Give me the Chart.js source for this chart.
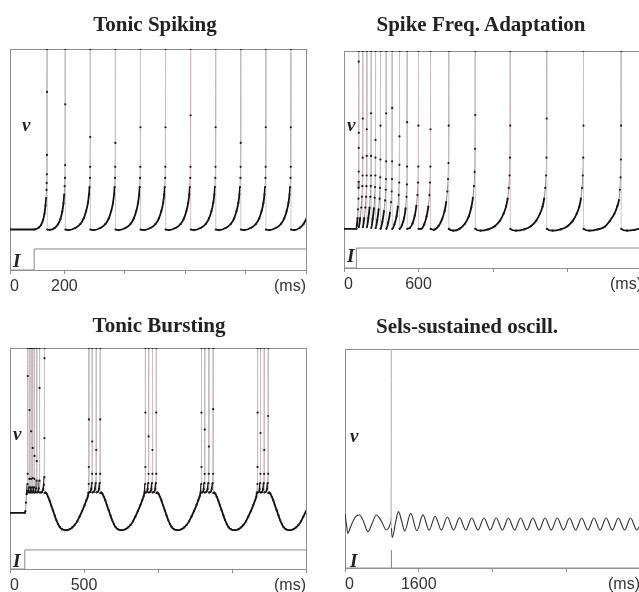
<!DOCTYPE html>
<html>
<head>
<meta charset="utf-8">
<script src="https://cdn.jsdelivr.net/npm/chart.js@4/dist/chart.umd.min.js"></script>
<style>
html, body { margin: 0; padding: 0; background: #fff; overflow: hidden; width: 639px; height: 592px; }
canvas { position: absolute; }
.title { position: absolute; width: 260px; text-align: center; font: bold 21px "Liberation Serif", "Times New Roman", serif; line-height: 21px; color: #222; }
.lab { position: absolute; font: italic bold 19px "Liberation Serif", "Times New Roman", serif; line-height: 19px; color: #222; }
</style>
</head>
<body>
<canvas id="tonicSpiking" width="320" height="300" style="left:0;top:0"></canvas>
<canvas id="adaptation" width="340" height="300" style="left:320px;top:0"></canvas>
<canvas id="tonicBursting" width="320" height="300" style="left:0;top:300px"></canvas>
<canvas id="oscillation" width="340" height="300" style="left:320px;top:300px"></canvas>

<div class="title" style="left:25px;top:14px">Tonic Spiking</div>
<div class="title" style="left:351px;top:14px">Spike Freq. Adaptation</div>
<div class="title" style="left:29px;top:315px">Tonic Bursting</div>
<div class="title" style="left:337px;top:316px">Sels-sustained oscill.</div>

<div class="lab" style="left:22px;top:115px">v</div>
<div class="lab" style="left:13px;top:251px">I</div>
<div class="lab" style="left:347px;top:115px">v</div>
<div class="lab" style="left:347px;top:246px">I</div>
<div class="lab" style="left:13px;top:424px">v</div>
<div class="lab" style="left:13px;top:551px">I</div>
<div class="lab" style="left:350px;top:426px">v</div>
<div class="lab" style="left:350px;top:551px">I</div>

<script>
// membrane potential traces, [t (ms), v (mV)]
const tonicSpikingV = [
    [20,-68],[100,-68],[106,-67.8],[115,-67],[123,-65.5],[129,-63],[134,-59.5],[137.5,-55],[139.5,-51],[140.8,-46.5],[141.5,-42.7],[142,-38],[142.3,-27.5],[142.6,6.7],[143,30],
    [143.4,-68],[152,-68.2],[167,-67.3],[179,-65.2],[187,-62.3],[193,-58.3],[197,-53.8],[199.5,-49],[201,-44.5],[202,-40],[202.5,-33],[202.8,0],[203,30],
    [203.4,-68],[215,-68.3],[236,-67.2],[253,-65],[264,-62],[272,-58],[278,-53.5],[281.5,-49],[283.5,-45],[284.8,-40],[285.4,-34],[285.8,-17.8],[286,30],
    [286.4,-68],[298,-68.3],[319,-67.2],[336,-65],[347,-62],[355,-58],[361,-53.5],[364.5,-49],[366.5,-45],[367.8,-40],[368.4,-34],[368.8,-21],[369,30],
    [369.4,-68],[381,-68.3],[402,-67.2],[419,-65],[430,-62],[438,-58],[444,-53.5],[447.5,-49],[449.5,-45],[450.8,-40],[451.4,-34],[451.8,-12.5],[452,30],
    [452.4,-68],[464,-68.3],[485,-67.2],[502,-65],[513,-62],[521,-58],[527,-53.5],[530.5,-49],[532.5,-45],[533.8,-40],[534.4,-34],[534.8,-12.5],[535,30],
    [535.4,-68],[547,-68.3],[568,-67.2],[585,-65],[596,-62],[604,-58],[610,-53.5],[613.5,-49],[615.5,-45],[616.8,-40],[617.4,-34],[617.8,-6],[618,30],
    [618.4,-68],[630,-68.3],[651,-67.2],[668,-65],[679,-62],[687,-58],[693,-53.5],[696.5,-49],[698.5,-45],[699.8,-40],[700.4,-34],[700.8,-12.5],[701,30],
    [701.4,-68],[713,-68.3],[734,-67.2],[751,-65],[762,-62],[770,-58],[776,-53.5],[779.5,-49],[781.5,-45],[782.8,-40],[783.4,-34],[783.8,-21],[784,30],
    [784.4,-68],[796,-68.3],[817,-67.2],[834,-65],[845,-62],[853,-58],[859,-53.5],[862.5,-49],[864.5,-45],[865.8,-40],[866.4,-34],[866.8,-12.5],[867,30],
    [867.4,-68],[879,-68.3],[900,-67.2],[917,-65],[928,-62],[936,-58],[942,-53.5],[945.5,-49],[947.5,-45],[948.8,-40],[949.4,-34],[949.8,-12.5],[950,30],
    [950.4,-68],[962,-68.3],[980,-67],[992,-65],[1000,-62.5]
];
const tonicSpikingI = [[20,0],[100,0],[100,1],[1000,1]];

const adaptationV = [
    [0,-70],[100,-70],[104,-68],[109,-64],[113,-59],[116,-53],[117.5,-47],[118.2,-43.5],[118.5,-37.8],[118.7,-24.5],[118.8,-16],[118.9,24],[119,30],
    [119.4,-69],[130,-64],[139,-58],[145,-52],[148,-46],[149.5,-40],[150.3,-30],[150.7,-8],[151,30],
    [151.4,-69],[163,-64],[172,-58],[178,-52],[181,-46],[182.5,-40],[183.3,-29],[183.7,-14],[184,30],
    [184.4,-69],[196,-64],[206,-58],[212,-52],[215.5,-46],[217.3,-40],[218.3,-29],[218.7,-5],[219,30],
    [219.4,-69.5],[231,-64.5],[241,-58.5],[247,-52.5],[250.5,-46.5],[252.3,-40],[253.3,-30],[253.7,-20],[254,30],
    [254.4,-69.5],[268,-65],[279,-59],[286,-53],[290,-47],[292.2,-41],[293.3,-31],[293.7,-12],[294,30],
    [294.4,-70],[309,-66],[322,-60],[331,-54],[336,-48],[338.3,-42],[339.3,-32],[339.7,-5],[340,30],
    [340.4,-70],[356,-66.5],[370,-61],[379,-55],[384,-49],[386.3,-42],[387.3,-32],[387.7,-2],[388,30],
    [388.4,-70],[406,-67.5],[423,-63],[434,-57.5],[441,-51],[444.5,-44],[446.2,-34],[446.7,-18],[447,30],
    [447.4,-70],[466,-68],[484,-64],[496,-58.5],[503,-52],[506.5,-45],[508.2,-35],[508.7,-10],[509,30],
    [509.4,-70],[530,-69.5],[552,-67],[570,-62.5],[583,-57],[591,-51],[596,-44],[598.5,-35],[599.5,-12],[600,30],
    [600.4,-70],[622,-70],[646,-67.5],[665,-63],[679,-57.5],[688,-51],[693,-44],[695.7,-35],[696.6,-14],[697,30],
    [697.4,-70],[725,-70.5],[760,-68.5],[790,-64.5],[810,-60],[823,-55],[832,-49],[838,-42],[841.5,-33],[843.3,-12],[844,30],
    [844.4,-70],[880,-71],[930,-70],[975,-67],[1005,-63],[1025,-58],[1038,-52.5],[1047,-46],[1052.5,-38],[1055.5,-25],[1056.6,-6],[1057,30],
    [1057.4,-70],[1100,-71],[1160,-70.3],[1215,-68.5],[1255,-65.5],[1285,-61.5],[1305,-57.5],[1318,-53],[1327,-47],[1333,-40],[1337,-30],[1338.5,-12],[1339,30],
    [1339.4,-70],[1385,-71],[1450,-70.3],[1505,-68.5],[1547,-65.5],[1578,-61.5],[1599,-57.5],[1612,-53],[1621,-47],[1627,-40],[1631,-30],[1632.5,-8],[1633,30],
    [1633.4,-70],[1680,-71],[1745,-70.3],[1800,-68.5],[1842,-65.5],[1874,-61.5],[1895,-57.5],[1908,-53],[1917,-47],[1923,-40],[1927,-30],[1928.5,-12],[1929,30],
    [1929.4,-70],[1977,-71],[2043,-70.3],[2100,-68.8],[2140,-65.6],[2177,-61.6],[2202,-57.1],[2214,-53.8],[2222,-48],[2227,-41],[2230,-31],[2231.5,-12],[2232,30],
    [2232.4,-70],[2280,-71],[2340,-70.6],[2400,-69.5]
];
const adaptationI = [[0,0],[100,0],[100,1],[2400,1]];

const tonicBurstingV = [
    [0,-67],[100,-67],[104,-66],[108,-61],[112,-56],[116,-54],[118.5,-50],[119.3,-44],[119.7,13.5],[120,30],
    [120.4,-55],[126,-54.5],[129.5,-52],[131.2,-47],[131.7,-6.5],[132,30],
    [132.4,-55],[137,-54.5],[140.5,-52],[142.3,-47],[142.7,-19],[143,30],
    [143.4,-55],[148,-54.5],[151.5,-52],[153.3,-46.5],[153.7,-28.8],[154,30],
    [154.4,-55],[159,-54.5],[163,-52],[165.2,-47],[165.7,-33.5],[166,30],
    [166.4,-55],[172,-54.7],[177,-52.5],[180,-48],[180.6,-36.5],[181,30],
    [181.4,-55],[189,-54.7],[195,-52.5],[198.8,-48],[199.5,6.5],[200,30],
    [200.4,-55],[212,-55],[222,-53.5],[229,-50.5],[231.8,-46],[232.6,-23],[232.8,24],[233,30],
    [233.4,-55.3],[240,-55],[248,-55.8],[257,-57.5],[267,-59.6],[278,-62.5],[290,-65.5],[302,-68.5],[313,-71.2],[325,-73.6],[337,-75.4],[352,-76.6],[369,-77.1],[386,-77.1],[403,-76.6],[420,-75.6],[437,-74.1],[454,-72],[470,-69.2],[487,-66],[504,-62.4],[516,-59.6],[526,-57.2],[530,-55],[532,-50],[532.6,-40],[532.8,-12],[533,30],
    [533.4,-55],[542,-54.7],[549,-53],[553.5,-49.5],[555.3,-44],[555.7,-25],[556,30],
    [556.4,-55],[566,-54.7],[574,-53],[579.5,-49.5],[582.2,-44],[582.7,-30],[583,30],
    [583.4,-55],[593,-54.7],[601,-53],[606.5,-49.5],[609.2,-44],[609.6,-12],[610,30],
    [610.4,-55.3],[617,-55],[625,-55.8],[634,-57.5],[644,-59.6],[655,-62.5],[667,-65.5],[679,-68.5],[690,-71.2],[702,-73.6],[714,-75.4],[729,-76.6],[746,-77.1],[763,-77.1],[780,-76.6],[797,-75.6],[814,-74.1],[831,-72],[847,-69.2],[864,-66],[881,-62.4],[893,-59.6],[903,-57.2],[909,-55],[913.5,-50],[914.6,-40],[914.8,-8],[915,30],
    [915.4,-55],[924,-54.7],[930,-53],[934.5,-49.5],[936.3,-44],[936.7,-22],[937,30],
    [937.4,-55],[947,-54.7],[955,-53],[959.5,-49.5],[962.2,-44],[962.7,-30],[963,30],
    [963.4,-55],[973,-54.7],[981,-53],[985.5,-49.5],[988.2,-44],[988.6,-8],[989,30],
    [989.4,-55.3],[996,-55],[1004,-55.8],[1013,-57.5],[1023,-59.6],[1034,-62.5],[1046,-65.5],[1058,-68.5],[1069,-71.2],[1081,-73.6],[1093,-75.4],[1108,-76.6],[1125,-77.1],[1142,-77.1],[1159,-76.6],[1176,-75.6],[1193,-74.1],[1210,-72],[1226,-69.2],[1243,-66],[1260,-62.4],[1272,-59.6],[1282,-57.2],[1288,-55],[1292.5,-50],[1293.6,-40],[1293.8,-8],[1294,30],
    [1294.4,-55],[1303,-54.7],[1309,-53],[1313.5,-49.5],[1315.3,-44],[1315.7,-18],[1316,30],
    [1316.4,-55],[1326,-54.7],[1335,-53],[1340.5,-49.5],[1343.2,-44],[1343.7,-28],[1344,30],
    [1344.4,-55],[1354,-54.7],[1363,-53],[1369.5,-49.5],[1372.2,-44],[1372.6,-6],[1373,30],
    [1373.4,-55.3],[1380,-55],[1388,-55.8],[1397,-57.5],[1407,-59.6],[1418,-62.5],[1430,-65.5],[1442,-68.5],[1453,-71.2],[1465,-73.6],[1477,-75.4],[1492,-76.6],[1509,-77.1],[1526,-77.1],[1543,-76.6],[1560,-75.6],[1577,-74.1],[1594,-72],[1610,-69.2],[1627,-66],[1644,-62.4],[1656,-59.6],[1664,-57.5],[1668,-55],[1671.8,-50],[1672.6,-40],[1672.8,-8],[1673,30],
    [1673.4,-55],[1681,-54.7],[1687,-53],[1690.5,-49.5],[1692.3,-44],[1692.7,-20],[1693,30],
    [1693.4,-55],[1702,-54.7],[1710,-53],[1714.5,-49.5],[1717.2,-44],[1717.7,-30],[1718,30],
    [1718.4,-55],[1728,-54.7],[1736,-53],[1741.5,-49.5],[1744.2,-44],[1744.6,-10],[1745,30],
    [1745.4,-55.3],[1752,-55],[1760,-55.8],[1769,-57.5],[1779,-59.6],[1790,-62.5],[1802,-65.5],[1814,-68.5],[1825,-71.2],[1837,-73.6],[1849,-75.4],[1864,-76.6],[1881,-77.1],[1898,-77.1],[1915,-76.6],[1932,-75.6],[1949,-74.1],[1966,-72],[1982,-69.2],[2000,-66]
];
const tonicBurstingI = [[0,0],[100,0],[100,1],[2000,1]];

const oscillationV = [
    [0,-52.5],[30,-58],[61,-62.6],[110,-60],[170,-56.7],[240,-54],[316,-53.4],[400,-56.5],[497,-61.8],[590,-57.5],[678,-53.4],[790,-56.5],[897,-60.9],[950,-59.8],[990,-57.5],[1003,-55],[1006,30],[1009,-60],[1027,-64.6],
    [1090,-58],[1160,-51.7],[1230,-56.5],[1295,-61.5],[1425,-52.5],[1560,-61.3],[1690,-53.3],[1825,-61],[1955,-54],[2090,-61],[2220,-54.4],
    [2355,-60.9],[2485,-54.7],[2620,-60.9],[2750,-54.9],[2885,-60.9],[3015,-54.9],[3150,-60.9],[3280,-54.9],[3415,-60.9],[3545,-54.9],
    [3680,-60.9],[3810,-54.9],[3945,-60.9],[4075,-54.9],[4210,-60.9],[4340,-54.9],[4475,-60.9],[4605,-54.9],[4740,-60.9],[4870,-54.9],
    [5005,-60.9],[5135,-54.9],[5270,-60.9],[5400,-54.9],[5535,-60.9],[5665,-54.9],[5800,-60.9],[5930,-54.9],[6065,-60.9],[6195,-54.9],
    [6330,-60.9],[6400,-58.5]
];
const oscillationI = [[0,0],[1000,0],[1000,1],[1012,1],[1012,0],[6400,0]];

// tick positions and their labels
const tonicSpikingTicks = [20, 200, 400, 600, 800, 1000];
const tonicSpikingLabels = ['0', '200', '', '', '', '(ms)'];
const adaptationTicks = [0, 600, 1200, 1800, 2400];
const adaptationLabels = ['0', '600', '', '', '(ms)'];
const tonicBurstingTicks = [0, 500, 1000, 1500, 2000];
const tonicBurstingLabels = ['0', '500', '', '', '(ms)'];
const oscillationTicks = [0, 1600, 3200, 4800, 6400];
const oscillationLabels = ['0', '1600', '', '', '(ms)'];

const frameColor = '#8f8f8f';

const framePlugin = {
    id: 'frame',
    beforeDatasetsDraw(chart) {
        const ctx = chart.ctx;
        const a = chart.chartArea;
        ctx.save();
        ctx.strokeStyle = frameColor;
        ctx.lineWidth = 1;
        ctx.strokeRect(Math.round(a.left) + 0.5, Math.round(a.top) + 0.5,
            Math.round(a.right - a.left), Math.round(a.bottom - a.top));
        ctx.restore();
    }
};

function isSteep(ctx) {
    const dx = Math.abs(ctx.p1.x - ctx.p0.x);
    const dy = Math.abs(ctx.p1.y - ctx.p0.y);
    return dy > 4 * dx + 6;
}

function makePanel(id, p) {
    const vDataset = {
        data: p.v,
        yAxisID: 'y',
        cubicInterpolationMode: 'monotone',
        borderColor: '#111',
        borderWidth: p.lineWidth,
        pointRadius: p.pointRadius,
        pointBackgroundColor: '#1a1a1a',
        pointBorderWidth: 0,
        segment: {
            borderColor: ctx => {
                if (!isSteep(ctx)) return p.lineColor;
                return ctx.p1.y > ctx.p0.y ? '#d3c2c6' : '#8a8a8a';
            },
            borderWidth: ctx => isSteep(ctx) ? 1 : p.lineWidth
        }
    };
    const iDataset = {
        data: p.i,
        yAxisID: 'yI',
        borderColor: '#8a8a8a',
        borderWidth: 1,
        pointRadius: 0
    };

    return new Chart(document.getElementById(id), {
        type: 'line',
        data: { datasets: [vDataset, iDataset] },
        options: {
            responsive: false,
            animation: false,
            events: [],
            layout: { padding: p.padding },
            plugins: { legend: { display: false }, tooltip: { enabled: false } },
            scales: {
                x: {
                    type: 'linear',
                    min: p.xMin,
                    max: p.xMax,
                    border: { color: frameColor },
                    grid: { drawOnChartArea: false, drawTicks: true, tickLength: 4, color: frameColor },
                    ticks: {
                        align: 'inner',
                        autoSkip: false,
                        maxRotation: 0,
                        padding: 3,
                        color: '#333',
                        font: { family: '"Liberation Sans", Arial, sans-serif', size: 16 },
                        callback: (value, index) => p.labels[index]
                    },
                    afterBuildTicks: axis => { axis.ticks = p.ticks.map(value => ({ value })); },
                    afterFit: axis => { axis.height = 30; }
                },
                y: { display: false, min: p.vMin, max: 30 },
                yI: { display: false, min: 0, max: p.iMax }
            }
        },
        plugins: [framePlugin]
    });
}

document.addEventListener('DOMContentLoaded', function () {
    makePanel('tonicSpiking', {
        v: tonicSpikingV, i: tonicSpikingI, ticks: tonicSpikingTicks, labels: tonicSpikingLabels,
        xMin: 20, xMax: 1000, vMin: -90, iMax: 10.5,
        padding: { left: 10, top: 49, right: 14, bottom: 0 },
        lineWidth: 1.8, lineColor: '#111', pointRadius: 1.1
    });
    makePanel('adaptation', {
        v: adaptationV, i: adaptationI, ticks: adaptationTicks, labels: adaptationLabels,
        xMin: 0, xMax: 2400, vMin: -92, iMax: 10.85,
        padding: { left: 24, top: 51, right: 18, bottom: 2 },
        lineWidth: 1.8, lineColor: '#111', pointRadius: 1.1
    });
    makePanel('tonicBursting', {
        v: tonicBurstingV, i: tonicBurstingI, ticks: tonicBurstingTicks, labels: tonicBurstingLabels,
        xMin: 0, xMax: 2000, vMin: -100, iMax: 11.6,
        padding: { left: 10, top: 48, right: 14, bottom: 1 },
        lineWidth: 1.8, lineColor: '#111', pointRadius: 1.1
    });
    makePanel('oscillation', {
        v: oscillationV, i: oscillationI, ticks: oscillationTicks, labels: oscillationLabels,
        xMin: 0, xMax: 6400, vMin: -80, iMax: 12.2,
        padding: { left: 25, top: 49, right: 20, bottom: 2 },
        lineWidth: 1.1, lineColor: '#333', pointRadius: 0
    });
});
</script>
</body>
</html>
